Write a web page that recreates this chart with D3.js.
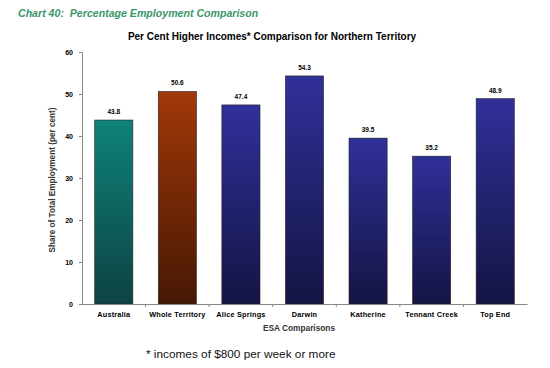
<!DOCTYPE html>
<html>
<head>
<meta charset="utf-8">
<title>Chart 40</title>
<script src="https://d3js.org/d3.v7.min.js"></script>
<style>
  body { margin: 0; background: #fff; }
  svg { display: block; font-family: "Liberation Sans", Arial, sans-serif; }
  .tick text { font-size: 7px; font-weight: bold; fill: #000; }
  .xax .tick text { font-size: 7.3px; letter-spacing: 0.2px; }
</style>
</head>
<body>
<div id="chart"></div>
<script>
// data
var categories = ["Australia", "Whole Territory", "Alice Springs", "Darwin", "Katherine", "Tennant Creek", "Top End"];
var values = [43.8, 50.6, 47.4, 54.3, 39.5, 35.2, 48.9];
var barColours = ["teal", "rust", "blue", "blue", "blue", "blue", "blue"];
var yTicks = [0, 10, 20, 30, 40, 50, 60];

var width = 550, height = 368;
var margin = { top: 52, right: 23, bottom: 64, left: 82 };

var svg = d3.select("#chart").append("svg")
    .attr("width", width)
    .attr("height", height);

// gradients for the bars
var grads = {
  teal: ["#0e8279", "#0d4243"],
  rust: ["#a23808", "#461804"],
  blue: ["#30309a", "#141443"]
};
var defs = svg.append("defs");
Object.keys(grads).forEach(function(k) {
  var g = defs.append("linearGradient")
      .attr("id", "grad-" + k)
      .attr("x1", 0).attr("y1", 0).attr("x2", 0).attr("y2", 1);
  g.append("stop").attr("offset", "0%").attr("stop-color", grads[k][0]);
  g.append("stop").attr("offset", "100%").attr("stop-color", grads[k][1]);
});

var x = d3.scaleBand()
    .domain(categories)
    .range([margin.left, width - margin.right])
    .paddingInner(0.4)
    .paddingOuter(0.2);

var y = d3.scaleLinear()
    .domain([0, 60])
    .range([height - margin.bottom, margin.top]);

// headings
svg.append("text")
    .attr("x", 18).attr("y", 17)
    .style("font-size", "10.6px")
    .style("font-weight", "bold")
    .style("font-style", "italic")
    .style("white-space", "pre")
    .style("fill", "#3a9767")
    .text("Chart 40:  Percentage Employment Comparison");

svg.append("text")
    .attr("x", 272).attr("y", 40)
    .attr("text-anchor", "middle")
    .style("font-size", "10px")
    .style("font-weight", "bold")
    .text("Per Cent Higher Incomes* Comparison for Northern Territory");

// bars
svg.selectAll(".bar")
    .data(values)
    .enter().append("rect")
    .attr("class", "bar")
    .attr("x", function(d, i) { return x(categories[i]); })
    .attr("width", x.bandwidth())
    .attr("y", function(d) { return y(d); })
    .attr("height", function(d) { return y(0) - y(d); })
    .attr("fill", function(d, i) { return "url(#grad-" + barColours[i] + ")"; })
    .attr("stroke", "#222")
    .attr("stroke-width", 0.6);

// value labels
svg.selectAll(".val")
    .data(values)
    .enter().append("text")
    .attr("class", "val")
    .attr("x", function(d, i) { return x(categories[i]) + x.bandwidth() / 2; })
    .attr("y", function(d) { return y(d) - 6; })
    .attr("text-anchor", "middle")
    .style("font-size", "6.5px")
    .style("font-weight", "bold")
    .text(function(d) { return d.toFixed(1); });

// axes
var yAxis = svg.append("g")
    .attr("transform", "translate(" + margin.left + ",0)")
    .call(d3.axisLeft(y).tickValues(yTicks).tickSize(3).tickPadding(6));
yAxis.selectAll("path, line").attr("stroke", "#888");

var xAxis = svg.append("g")
    .attr("class", "xax")
    .attr("transform", "translate(0," + y(0) + ")")
    .call(d3.axisBottom(x).tickSize(0).tickPadding(8));
xAxis.select(".domain").attr("stroke", "#888");

// tick marks between categories
var step = x.step();
svg.selectAll(".sep")
    .data(categories.slice(1))
    .enter().append("line")
    .attr("class", "sep")
    .attr("x1", function(d) { return x(d) - step * x.paddingInner() / 2; })
    .attr("x2", function(d) { return x(d) - step * x.paddingInner() / 2; })
    .attr("y1", y(0))
    .attr("y2", y(0) + 3)
    .attr("stroke", "#888");

// axis titles
svg.append("text")
    .attr("transform", "translate(55," + (y(30) + 2) + ") rotate(-90)")
    .attr("text-anchor", "middle")
    .style("font-size", "8.2px")
    .style("font-weight", "bold")
    .style("fill", "#333")
    .text("Share of Total Employment (per cent)");

svg.append("text")
    .attr("x", 299).attr("y", 331)
    .attr("text-anchor", "middle")
    .style("font-size", "8.3px")
    .style("font-weight", "bold")
    .style("fill", "#333")
    .text("ESA Comparisons");

svg.append("text")
    .attr("x", 146).attr("y", 358)
    .style("font-size", "11.8px")
    .style("fill", "#111")
    .text("* incomes of $800 per week or more");
</script>
</body>
</html>
